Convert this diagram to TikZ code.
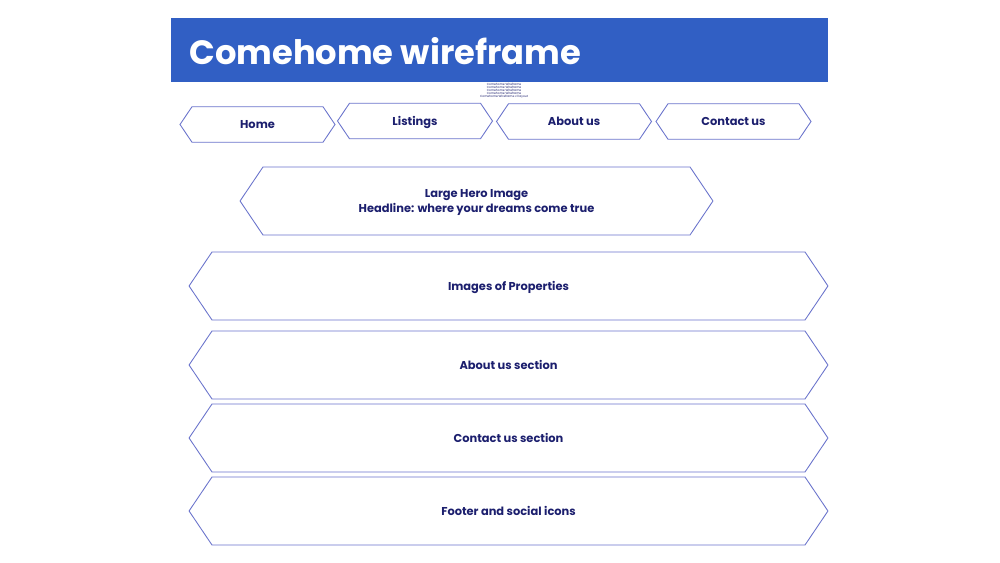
\documentclass[tikz,border=0pt]{standalone}
\usepackage{fontspec}
\setmainfont{Poppins}
\usepackage{tikz}
\usetikzlibrary{shapes.symbols}
\definecolor{barblue}{HTML}{315FC4}
\definecolor{edgeblue}{HTML}{6B74CC}
\definecolor{inkblue}{HTML}{1C1F6E}

\begin{document}
\begin{tikzpicture}[x=0.02cm,y=-0.02cm,
  block/.style={signal,signal to=west and east,signal pointer angle=112,
    draw=edgeblue,line width=0.5pt,fill=white,inner sep=0pt,text depth=0pt,
    text=inkblue,font=\fontsize{6.5}{8.6}\selectfont\bfseries,align=center},
  navbox/.style={block,minimum width=3.1cm,minimum height=0.71cm},
  rowbox/.style={block,minimum width=12.78cm,minimum height=1.36cm}]
\useasboundingbox[fill=white] (0,0) rectangle (1000,563);
% title bar
\fill[barblue] (171,18) rectangle (828,82);
\node[anchor=west,text=white,inner sep=0pt,font=\fontsize{19.2}{21}\selectfont\bfseries] (title) at (189,51) {Comehome wireframe};
\node[inkblue,inner sep=0pt,align=center,font=\fontsize{1.7}{1.75}\selectfont] (notes) at (504,91)
  {Comehome Wireframe\\Comehome Wireframe\\Comehome Wireframe\\Comehome Wireframe\\Comehome Wireframe v1 layout};
% navigation
\node[navbox] (home) at (257.5,124.5) {Home};
\node[navbox] (listings) at (415,121) {Listings};
\node[navbox] (about) at (574,121.5) {About us};
\node[navbox] (contact) at (733.5,121.5) {Contact us};
% page sections
\node[block,minimum width=9.46cm,minimum height=1.36cm] (hero) at (476.5,201) {Large Hero Image\\Headline: where your dreams come true};
\node[rowbox] (props) at (508.5,286) {Images of Properties};
\node[rowbox] (aboutsec) at (508.5,365) {About us section};
\node[rowbox] (contactsec) at (508.5,438) {Contact us section};
\node[rowbox] (footer) at (508.5,511) {Footer and social icons};
\end{tikzpicture}
\end{document}
